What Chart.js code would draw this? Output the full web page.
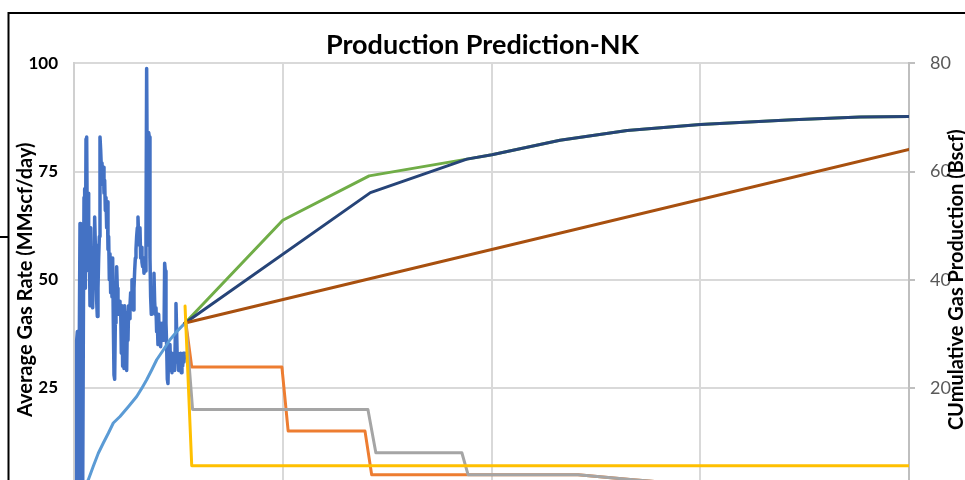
<!DOCTYPE html>
<html><head><meta charset="utf-8">
<script src="https://cdn.jsdelivr.net/npm/chart.js@4.4.1/dist/chart.umd.min.js"></script>
<style>
html,body{margin:0;padding:0;background:#fff;overflow:hidden}
#wrap{width:965px;height:480px;overflow:hidden;position:relative;background:#fff}
canvas{display:block}
</style></head>
<body><div id="wrap"><canvas id="c" width="965" height="546"></canvas></div>
<script>
// ---------- text ----------
const chartTitle = 'Production Prediction-NK';
const leftAxisTitle = 'Average Gas Rate (MMscf/day)';
const rightAxisTitle = 'CUmulative Gas Production (Bscf)';

// ---------- axes ----------
const xTicks = [2015, 2020, 2025, 2030, 2035];
const rateTicks = [0, 25, 50, 75, 100];
const cumTicks = [0, 20, 40, 60, 80];

// ---------- history: gas rate (MMscf/day), evenly sampled between these dates ----------
const historyStart = 2015.048;
const historyEnd = 2017.666;
const historyRate = [
  0, 36, 38, 12, 0, 37, 63, 40, 38, 5, 0, 38, 69, 71, 48, 82.5, 83, 60, 70, 52,
  58, 44, 62, 48, 45, 43.5, 56, 48, 64.5, 58, 52, 45, 41.5, 48, 55, 60, 83, 80, 76, 77,
  72, 76, 70, 73, 66, 69, 62, 68, 57, 60, 50, 56, 47, 53, 46, 55, 40, 28, 27, 40,
  44, 53, 48, 44, 42, 45, 42, 43.5, 33, 44, 30, 43, 29.5, 44, 41, 42.5, 29, 40, 36, 44,
  41, 44, 47, 44, 50, 46, 43, 48, 52, 55, 57, 60, 62, 64.5, 60, 58, 62, 55, 57.5, 54,
  53, 55, 51.5, 53, 52, 60, 98.8, 70, 58, 84, 83, 55, 46, 42, 47, 44, 43, 51.5, 45, 42,
  43.5, 38, 40, 35, 42, 37, 40, 34.5, 38, 36, 40, 38, 36, 53.8, 52, 40, 35, 27, 26, 34,
  31, 35, 29, 33, 28.5, 32, 30, 33, 29, 37, 44.5, 38, 31, 33, 29, 32, 30, 33, 28.5, 32,
  30, 33, 31, 33, 33
];

// ---------- history: cumulative production (Bscf) ----------
const historyCumYears = [2015.144, 2015.343, 2015.462, 2015.582, 2015.702, 2015.822, 2015.941, 2016.102, 2016.301,
                         2016.502, 2016.622, 2016.741, 2016.861, 2016.981, 2017.139, 2017.299, 2017.460, 2017.66];
const historyCum      = [0, 3.0, 5.5, 7.9, 9.8, 11.6, 13.5, 14.7, 16.5,
                         18.4, 19.9, 21.5, 23.3, 25.2, 27.0, 28.9, 30.4, 32.0];

// ---------- forecast cumulative (Bscf) ----------
const greenYears = [2017.66, 2020.0, 2022.07, 2024.41, 2025.01, 2026.64, 2028.25, 2030.0, 2032.22, 2033.83, 2035.0];
const greenCum   = [32.0,    51.0,   59.2,    62.3,    63.1,    65.8,    67.6,    68.7,   69.6,    70.1,    70.2];
const navyYears  = [2017.66, 2022.1, 2024.41, 2025.01, 2026.64, 2028.25, 2030.0, 2032.22, 2033.83, 2035.0];
const navyCum    = [32.0,    56.1,   62.3,    63.1,    65.8,    67.6,    68.7,   69.6,    70.1,    70.2];
const brownYears = [2017.66, 2035.0];
const brownCum   = [32.0,    64.1];

// ---------- forecast rates (MMscf/day) ----------
const yellowYears = [2017.66, 2017.82, 2035.0];
const yellowRate  = [43.9,    7.0,     7.0];
const orangeYears = [2017.68, 2017.82, 2019.98, 2020.13, 2021.97, 2022.13, 2027.07, 2028.32, 2030.0, 2035.0];
const orangeRate  = [40.0,    29.8,    29.8,    15.0,    15.0,    4.9,     4.9,     3.8,     2.5,    0.8];
const grayYears   = [2017.68, 2017.84, 2022.04, 2022.23, 2024.29, 2024.44, 2027.07, 2028.32, 2030.0, 2035.0];
const grayRate    = [40.0,    20.0,    20.0,    10.0,    10.0,    4.9,     4.9,     3.8,     2.5,    0.8];

// ---------- helpers ----------
const pts = (xs, ys) => xs.map((x, i) => ({x, y: ys[i]}));
const historyRatePts = historyRate.map((v, i) => ({
  x: historyStart + i * (historyEnd - historyStart) / (historyRate.length - 1), y: v
}));

const FONT = 'Lato, "Open Sans", sans-serif';
const lineDs = (label, data, color, axis, width) => ({
  label, data, borderColor: color, backgroundColor: color, yAxisID: axis,
  borderWidth: width || 3, pointRadius: 0, tension: 0, fill: false,
  borderJoinStyle: 'round', borderCapStyle: 'round'
});

const framePlugin = {
  id: 'frame',
  beforeDraw(chart) {
    const ctx = chart.ctx;
    ctx.save();
    ctx.fillStyle = '#ffffff';
    ctx.fillRect(0, 0, chart.width, chart.height);
    ctx.restore();
  },
  afterDraw(chart) {
    const ctx = chart.ctx, ca = chart.chartArea;
    ctx.save();
    // outer frame
    ctx.strokeStyle = '#000000';
    ctx.lineWidth = 2;
    ctx.beginPath();
    ctx.moveTo(8.5, 480); ctx.lineTo(8.5, 13); ctx.lineTo(965, 13);
    ctx.moveTo(0, 237); ctx.lineTo(8.5, 237);
    ctx.stroke();
    // right axis title (reads bottom to top)
    ctx.translate(957, (ca.top + ca.bottom) / 2);
    ctx.rotate(-Math.PI / 2);
    ctx.font = 'bold 20px ' + FONT;
    ctx.fillStyle = '#000000';
    ctx.textAlign = 'center';
    ctx.textBaseline = 'middle';
    ctx.fillText(rightAxisTitle, 0, 0);
    ctx.restore();
  }
};

new Chart(document.getElementById('c'), {
  type: 'line',
  data: {
    datasets: [
      lineDs('Forecast rate 3', pts(yellowYears, yellowRate), '#FFC000', 'yRate'),
      lineDs('Forecast rate 2', pts(grayYears, grayRate), '#A5A5A5', 'yRate'),
      lineDs('Forecast rate 1', pts(orangeYears, orangeRate), '#ED7D31', 'yRate'),
      lineDs('Forecast cum 3', pts(brownYears, brownCum), '#A8500F', 'yCum'),
      lineDs('Forecast cum 2', pts(navyYears, navyCum), '#264478', 'yCum'),
      lineDs('Forecast cum 1', pts(greenYears, greenCum), '#70AD47', 'yCum'),
      lineDs('Cumulative history', pts(historyCumYears, historyCum), '#5B9BD5', 'yCum'),
      lineDs('Gas rate history', historyRatePts, '#4472C4', 'yRate', 3.5)
    ]
  },
  options: {
    responsive: false,
    animation: false,
    events: [],
    layout: { padding: { left: 0, right: 0, top: 14, bottom: 10 } },
    plugins: {
      legend: { display: false },
      tooltip: { enabled: false },
      title: {
        display: true, text: chartTitle, color: '#000000',
        font: { family: FONT, size: 27, weight: 'bold' },
        padding: { top: 15, bottom: 2 }
      }
    },
    scales: {
      x: {
        type: 'linear', position: 'bottom',
        min: xTicks[0], max: xTicks[xTicks.length - 1],
        afterBuildTicks: s => { s.ticks = xTicks.map(v => ({value: v})); },
        ticks: { color: '#595959', font: { family: FONT, size: 17 }, callback: v => String(v) },
        grid: { color: '#d9d9d9', lineWidth: 2, drawTicks: false },
        border: { color: '#d0d0d0', width: 2 },
        afterFit: s => { s.height = 40; }
      },
      yRate: {
        type: 'linear', position: 'left',
        min: rateTicks[0], max: rateTicks[rateTicks.length - 1],
        afterBuildTicks: s => { s.ticks = rateTicks.map(v => ({value: v})); },
        ticks: { color: '#000000', padding: 16, font: { family: FONT, size: 17, weight: 'bold' } },
        grid: { color: '#d9d9d9', lineWidth: 2, drawTicks: false },
        border: { color: '#d0d0d0', width: 2 },
        title: {
          display: true, text: leftAxisTitle, color: '#000000',
          font: { family: FONT, size: 20, weight: 'bold' },
          padding: { top: 14, bottom: 0 }
        },
        afterFit: s => { s.width = 74; }
      },
      yCum: {
        type: 'linear', position: 'right',
        min: cumTicks[0], max: cumTicks[cumTicks.length - 1],
        afterBuildTicks: s => { s.ticks = cumTicks.map(v => ({value: v})); },
        ticks: { color: '#595959', padding: 15, font: { family: FONT, size: 18 } },
        grid: { color: '#bfbfbf', lineWidth: 2, drawOnChartArea: false, drawTicks: true, tickLength: 6 },
        border: { color: '#bfbfbf', width: 2 },
        afterFit: s => { s.width = 56; }
      }
    }
  },
  plugins: [framePlugin]
});
</script>
</body></html>
